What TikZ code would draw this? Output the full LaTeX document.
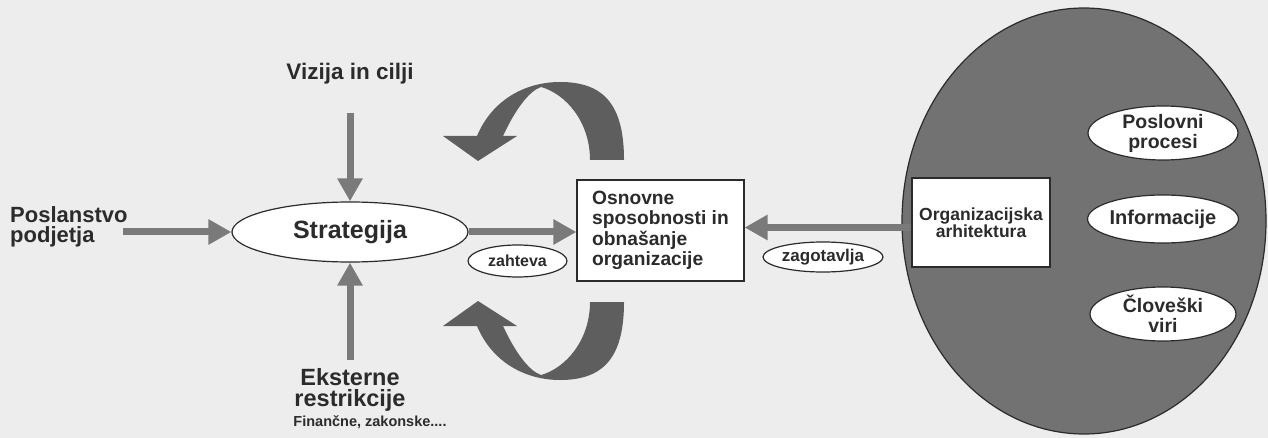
\documentclass[tikz,border=0pt]{standalone}
\usepackage{fontspec}
\setmainfont{Liberation Sans}
\usetikzlibrary{shapes.geometric,arrows.meta}
\definecolor{paper}{HTML}{EDEDED}
\definecolor{ink}{HTML}{2B2B2B}
\definecolor{shaft}{HTML}{7A7A7A}
\definecolor{bent}{HTML}{5E5E5E}
\definecolor{blob}{HTML}{727272}
\tikzset{
  txt/.style={text=ink,font=\bfseries,inner sep=0pt},
  oval/.style={ellipse,draw=ink,line width=1.2pt,fill=white,inner sep=0pt,text=ink,font=\bfseries},
  boxnode/.style={rectangle,draw=ink,line width=1.2pt,fill=white,inner sep=0pt,text=ink,font=\bfseries},
  arr/.style={draw=shaft,line width=7pt,-{Triangle[length=23pt,width=24pt]},shorten >=0pt},
  bentarrow/.style={fill=bent,draw=none}
}
\begin{document}
\begin{tikzpicture}[x=1pt,y=-1pt]
\fill[paper] (0,0) rectangle (1268,438);
\useasboundingbox (0,0) rectangle (1268,438);

% curved arrows
\fill[bentarrow] (624,160) .. controls (624,105) and (604,82) .. (560,82)
  .. controls (525,82) and (492,100) .. (477,136)
  -- (443,136) -- (478,161) -- (517,136) -- (503,136)
  .. controls (515,110) and (529,91) .. (541,87)
  .. controls (566,94) and (590,122) .. (590,160) -- cycle;
\begin{scope}[yshift=-462pt,yscale=-1]
\fill[bentarrow] (624,160) .. controls (624,105) and (604,82) .. (560,82)
  .. controls (525,82) and (492,100) .. (477,136)
  -- (443,136) -- (478,161) -- (517,136) -- (503,136)
  .. controls (515,110) and (529,91) .. (541,87)
  .. controls (566,94) and (590,122) .. (590,160) -- cycle;
\end{scope}

% big grey ellipse
\node[ellipse,draw=ink,line width=1.2pt,fill=blob,minimum width=364pt,minimum height=426pt,inner sep=0pt] (arch) at (1084,221) {};

% nodes
\node[oval,minimum width=236pt,minimum height=60pt,font=\bfseries\fontsize{25}{28}\selectfont] (strat) at (350,232) {Strategija};
\node[boxnode,minimum width=167pt,minimum height=101pt,align=left,font=\bfseries\fontsize{19.2}{20.5}\selectfont] (osn) at (660.5,230.5) {Osnovne\\sposobnosti in\\obnašanje\\organizacije};
\node[boxnode,minimum width=138pt,minimum height=89pt,align=center,font=\bfseries\fontsize{17.5}{17.5}\selectfont] (org) at (981,222.5) {Organizacijska\\arhitektura};
\node[oval,minimum width=99pt,minimum height=32pt,font=\bfseries\fontsize{16}{18}\selectfont] (zah) at (517.5,261) {zahteva};
\node[oval,minimum width=120pt,minimum height=30pt,font=\bfseries\fontsize{17}{18}\selectfont] (zag) at (823,257) {zagotavlja};
\node[oval,minimum width=150pt,minimum height=52pt,align=center,font=\bfseries\fontsize{19.5}{20}\selectfont] (pp) at (1163,133) {Poslovni\\procesi};
\node[oval,minimum width=144pt,minimum height=48pt,font=\bfseries\fontsize{20}{20}\selectfont] (inf) at (1163,219) {Informacije};
\node[oval,minimum width=146pt,minimum height=54pt,align=center,font=\bfseries\fontsize{19.5}{20}\selectfont] (cv) at (1163,314) {Človeški\\viri};

% free text
\node[txt,font=\bfseries\fontsize{22.5}{24}\selectfont] (viz) at (350,74) {Vizija in cilji};
\node[txt,align=left,anchor=west,font=\bfseries\fontsize{22}{20.5}\selectfont] (pos) at (10,227) {Poslanstvo\\podjetja};
\node[txt,align=center,font=\bfseries\fontsize{23.5}{21}\selectfont] (eks) at (350,390) {Eksterne\\restrikcije};
\node[txt,font=\bfseries\fontsize{14.5}{16}\selectfont] (fin) at (370,422) {Finančne, zakonske....};

% arrow end points
\coordinate (vtop) at (350,113);
\coordinate (pleft) at (123,232);
\coordinate (ebot) at (350,360);

% connectors
\draw[arr] (vtop) -- (strat.north);
\draw[arr] (pleft) -- (strat.west);
\draw[arr] (ebot) -- (strat.south);
\draw[arr] (strat.east) -- (strat.east -| osn.west);
\draw[arr] ([yshift=-5pt]org.west) -- ([yshift=-5pt]org.west -| osn.east);
\end{tikzpicture}
\end{document}
